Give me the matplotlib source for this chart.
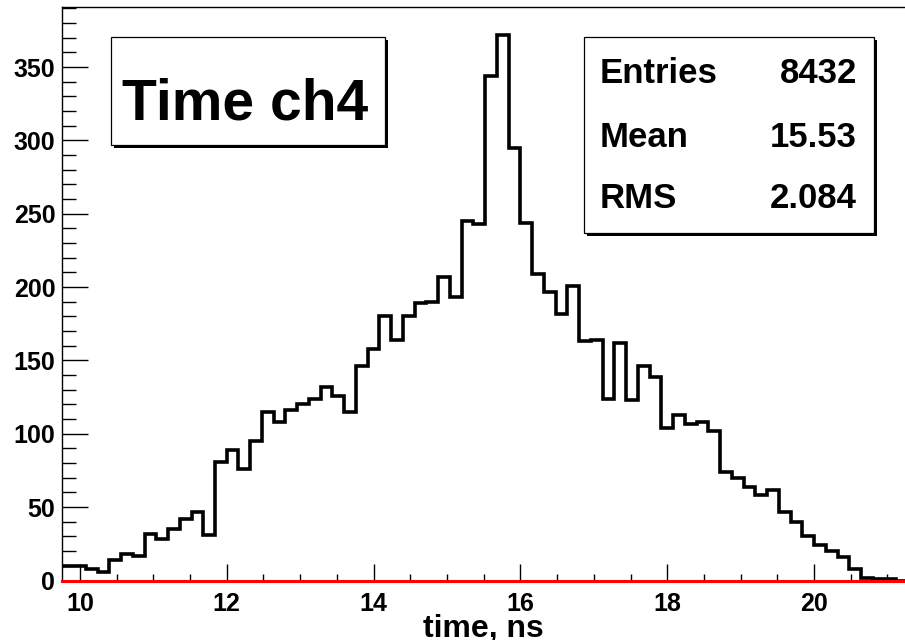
import numpy as np
import matplotlib
matplotlib.use("Agg")
import matplotlib.pyplot as plt
from matplotlib.patches import Rectangle
from matplotlib.ticker import MultipleLocator

plt.rcParams['font.family'] = ['Liberation Sans', 'DejaVu Sans']
plt.rcParams['font.weight'] = 'bold'

# histogram: 0.16 ns bins, first visible bin starts at 61 * 0.16 = 9.76 ns
BIN_WIDTH = 0.16
FIRST_BIN = 61
COUNTS = [10, 10, 8, 6, 14, 18, 17, 32, 28, 35, 42, 47, 31,
          81, 89, 76, 95, 115, 108, 116, 120, 124, 132, 126, 115,
          146, 158, 180, 164, 180, 189, 190, 207, 193, 245, 243,
          344, 372, 295, 244, 209, 197, 182, 201,
          163, 164, 124, 162, 123, 146, 139, 104, 113, 107, 108, 102,
          74, 70, 64, 58, 62, 47, 40, 30, 24, 20, 16, 8, 2, 1, 1, 0]

TITLE = "Time ch4"
XLABEL = "time, ns"
STAT_NAMES = ["Entries", "Mean", "RMS"]
STAT_VALUES = ["8432", "15.53", "2.084"]

W, H = 905, 640


def fx(x):
    return x / W


def fy(y):
    return 1 - y / H


def shadow_box(fig, x0, y0, x1, y1, off=3):
    """ROOT style pave: white box, thin frame, black shadow bottom/right."""
    fig.add_artist(Rectangle((fx(x0 + off), fy(y1 + off)), (x1 - x0) / W,
                             (y1 - y0) / H, transform=fig.transFigure,
                             facecolor="black", edgecolor="black", lw=0, zorder=5))
    fig.add_artist(Rectangle((fx(x0), fy(y1)), (x1 - x0) / W, (y1 - y0) / H,
                             transform=fig.transFigure, facecolor="white",
                             edgecolor="black", lw=0.9, zorder=6))


def main():
    fig = plt.figure(figsize=(W / 100, H / 100), dpi=100)
    left, right, top, bottom = 62.3, 908, 7, 580.5
    ax = fig.add_axes([fx(left), fy(bottom), (right - left) / W, (bottom - top) / H])

    n = len(COUNTS)
    edges = (FIRST_BIN + np.arange(n + 1)) * BIN_WIDTH
    ax.stairs(COUNTS, edges, baseline=None, color="black", lw=2.6, zorder=3)
    ax.axhline(0, color="#ff0000", lw=2.2, zorder=4, clip_on=False)

    ax.set_xlim(edges[0], edges[-1])
    ax.set_ylim(0, 391)

    ax.xaxis.set_major_locator(MultipleLocator(2))
    ax.xaxis.set_minor_locator(MultipleLocator(0.5))
    ax.yaxis.set_major_locator(MultipleLocator(50))
    ax.yaxis.set_minor_locator(MultipleLocator(10))
    ax.tick_params(axis="y", which="major", direction="in", length=19, width=1,
                   pad=5, labelsize=18)
    ax.tick_params(axis="y", which="minor", direction="in", length=10, width=1)
    ax.tick_params(axis="x", which="major", direction="in", length=12, width=1,
                   pad=8, labelsize=18)
    ax.tick_params(axis="x", which="minor", direction="in", length=5, width=1)
    ax.spines["right"].set_visible(False)
    for s in ("left", "top", "bottom"):
        ax.spines[s].set_linewidth(1)

    fig.text(fx(483), fy(637), XLABEL, fontsize=23, ha="center", va="baseline")

    # title pave
    shadow_box(fig, 111, 37, 385, 145)
    fig.text(fx(121.7), fy(119.3), TITLE, fontsize=41, ha="left",
             va="baseline", zorder=7)

    # stats pave
    shadow_box(fig, 584, 37, 874, 233)
    baselines = [83.3, 146.7, 208.3]
    for name, val, yb in zip(STAT_NAMES, STAT_VALUES, baselines):
        fig.text(fx(600), fy(yb), name, fontsize=25, ha="left", va="baseline", zorder=7)
        fig.text(fx(857), fy(yb), val, fontsize=25, ha="right", va="baseline", zorder=7)

    fig.savefig("out.png", dpi=100)


if __name__ == "__main__":
    main()
